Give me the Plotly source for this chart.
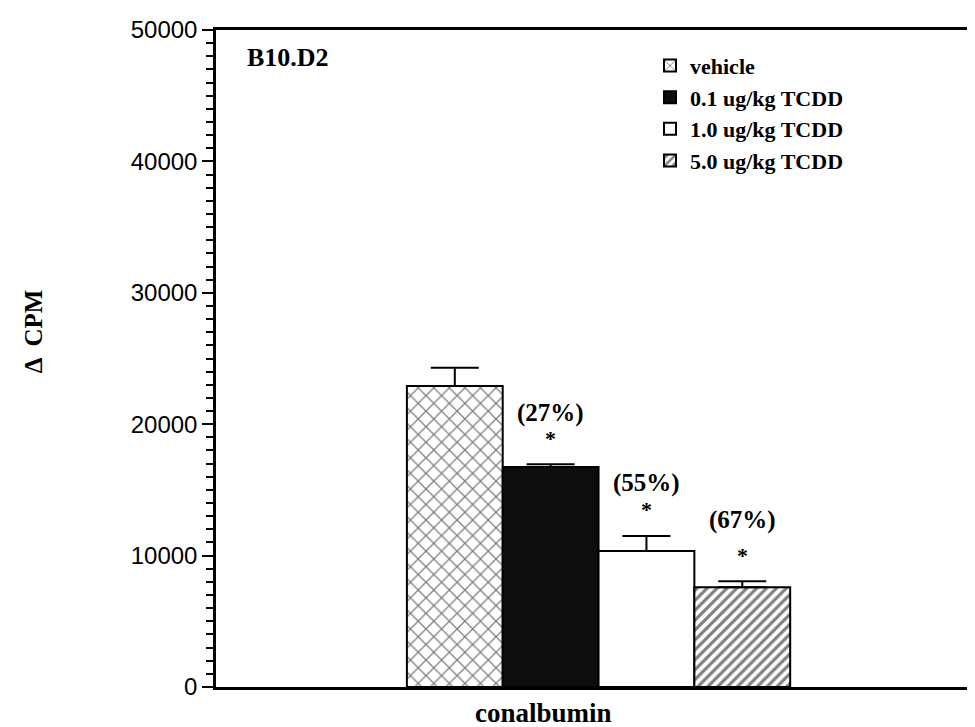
import plotly.graph_objects as go

# ---- data ----
categories = ["conalbumin"]
series_names = ["vehicle", "0.1 ug/kg TCDD", "1.0 ug/kg TCDD", "5.0 ug/kg TCDD"]
means = [22900, 16750, 10350, 7600]
errors_up = [1400, 200, 1150, 450]
pct_labels = ["", "(27%)", "(55%)", "(67%)"]
y_ticks = [0, 10000, 20000, 30000, 40000, 50000]
y_minor_step = 1000
panel_label = "B10.D2"
y_title = "Δ  CPM"

# ---- styles ----
fills = ["white", "#0d0d0d", "white", "white"]
patterns = [
    dict(shape="x", fgcolor="black", bgcolor="white", size=11, solidity=0.22),
    dict(shape=""),
    dict(shape=""),
    dict(shape="/", fgcolor="black", bgcolor="white", size=7, solidity=0.45),
]

W, H = 975, 727
# the page body has an 8px margin, so the figure is drawn 8px right/down
ML, MR, MT, MB = 208, 8, 14, 48
PL, PT, PR, PB = 216, 22, 975, 687          # plot area in page pixels
plot_w = PR - PL
plot_h = PB - PT
bargap = 0.495


def px(xp):
    return (xp - PL) / plot_w


def py(yp):
    return (PB - yp) / plot_h


fig = go.Figure()
for i, name in enumerate(series_names):
    fig.add_trace(go.Bar(
        x=categories, y=[means[i]], name=name,
        marker=dict(color=fills[i], pattern=patterns[i],
                    line=dict(color="black", width=2)),
        error_y=dict(type="data", symmetric=False, array=[errors_up[i]],
                     arrayminus=[0], color="black", thickness=2, width=24),
    ))

bar_px = plot_w * (1 - bargap) / len(series_names)
serif = "Liberation Serif"
label_shift = [0, 51, 53, 61]

annotations = []
for i, lab in enumerate(pct_labels):
    if not lab:
        continue
    top = means[i] + errors_up[i]
    xs = (i - (len(series_names) - 1) / 2) * bar_px
    annotations.append(dict(x=categories[0], y=top, xref="x", yref="y", text=lab,
                            showarrow=False, xshift=xs, yshift=label_shift[i],
                            xanchor="center", yanchor="middle",
                            font=dict(family=serif, size=25, color="black", weight="bold")))
    annotations.append(dict(x=categories[0], y=top, xref="x", yref="y", text="*",
                            showarrow=False, xshift=xs, yshift=26,
                            xanchor="center", yanchor="middle",
                            font=dict(family=serif, size=22, color="black", weight="bold")))

annotations.append(dict(x=px(288), y=py(50), xref="paper", yref="paper",
                        text=panel_label, showarrow=False,
                        xanchor="center", yanchor="middle",
                        font=dict(family=serif, size=26, color="black", weight="bold")))
annotations.append(dict(x=px(543), y=py(713), xref="paper", yref="paper",
                        text=categories[0], showarrow=False,
                        xanchor="center", yanchor="middle",
                        font=dict(family=serif, size=27, color="black", weight="bold")))
annotations.append(dict(x=px(33), y=py(327), xref="paper", yref="paper",
                        text=y_title, showarrow=False, textangle=-90,
                        xanchor="center", yanchor="middle",
                        font=dict(family=serif, size=25, color="black", weight="bold")))

fig.update_layout(
    width=W, height=H,
    margin=dict(l=ML, r=MR, t=MT, b=MB),
    paper_bgcolor="white", plot_bgcolor="white",
    barmode="group", bargap=bargap, bargroupgap=0,
    showlegend=True,
    legend=dict(x=px(650), y=py(37), xanchor="left", yanchor="top",
                bgcolor="rgba(0,0,0,0)", tracegroupgap=0, itemwidth=30,
                font=dict(family=serif, size=22, color="black", weight="bold")),
    annotations=annotations,
    xaxis=dict(range=[-0.504, 0.496], showticklabels=False, ticks="",
               showline=True, linecolor="black", linewidth=2.5, mirror=True,
               showgrid=False, zeroline=False, fixedrange=True),
    yaxis=dict(range=[y_ticks[0], y_ticks[-1]], tickmode="linear", tick0=y_ticks[0],
               dtick=y_ticks[1] - y_ticks[0], tickformat="d",
               ticks="outside", ticklen=11,
               tickwidth=2, tickcolor="black", showline=True, linecolor="black",
               linewidth=2.5, mirror=False, showgrid=False, zeroline=False,
               tickfont=dict(family="Liberation Sans", size=24, color="black"),
               minor=dict(dtick=y_minor_step, ticks="outside", ticklen=7,
                          tickwidth=2, tickcolor="black")),
)

fig.write_html("out.html")
